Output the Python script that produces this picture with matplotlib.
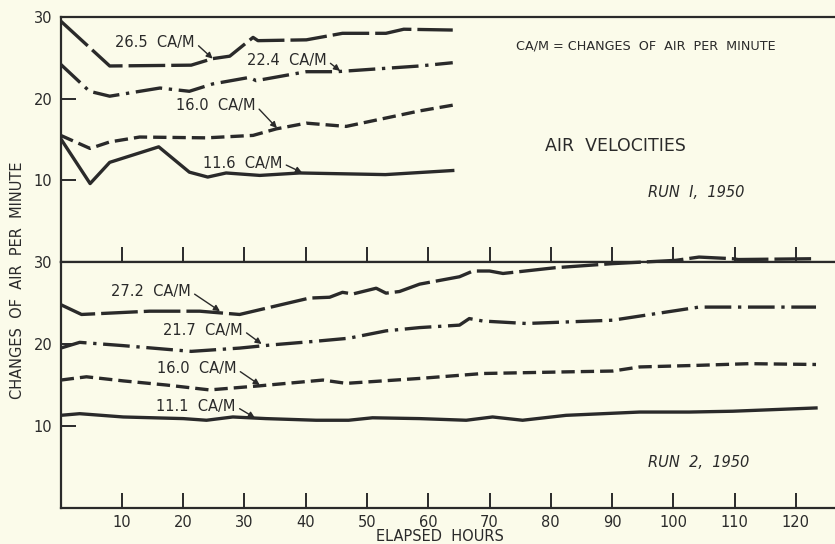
import matplotlib
matplotlib.use("Agg")
import matplotlib.pyplot as plt

# --- Data ---
# Run 1, 1950
r1_hours_a = [0, 8, 21.3, 24.8, 27.6, 31.4, 32.2, 40.1, 46, 53.1, 56, 64]
r1_265 = [29.5, 24.0, 24.1, 24.9, 25.2, 27.5, 27.1, 27.2, 28.0, 28.0, 28.5, 28.4]

r1_hours_b = [0, 4.7, 8, 16.2, 21, 24.8, 30.8, 31.9, 40.1, 45, 58.6, 64]
r1_224 = [24.2, 20.9, 20.3, 21.3, 20.9, 21.8, 22.6, 22.2, 23.3, 23.3, 24.0, 24.4]

r1_hours_c = [0, 4.8, 8, 12.9, 23.8, 31.4, 35.2, 40.1, 46.6, 58.6, 64]
r1_160 = [15.5, 13.9, 14.7, 15.3, 15.2, 15.5, 16.3, 17.0, 16.6, 18.5, 19.2]

r1_hours_d = [0, 4.8, 8, 16, 21, 24, 27, 32.5, 39, 53, 64]
r1_116 = [15.1, 9.6, 12.2, 14.1, 11.0, 10.4, 10.9, 10.6, 10.9, 10.7, 11.2]

# Run 2, 1950
r2_hours_a = [0, 3.4, 14.5, 22.7, 29.2, 40.6, 43.9, 46, 47.7, 51.5, 53.1, 55.3,
              58.6, 65.1, 67.3, 70, 72.2, 80.7, 90.1, 100.4, 104.2, 109.7, 110.6, 123.3]
r2_272 = [24.8, 23.6, 24.0, 24.0, 23.6, 25.6, 25.7, 26.3, 26.1, 26.8, 26.2, 26.4,
          27.3, 28.2, 28.9, 28.9, 28.6, 29.3, 29.8, 30.2, 30.6, 30.4, 30.3, 30.4]

r2_hours_b = [0, 3.1, 10.2, 21.3, 29.2, 34.6, 41.1, 47, 53.1, 58.6, 65.1, 66.7,
              68.9, 76, 90.1, 104.2, 123.3]
r2_217 = [19.5, 20.2, 19.8, 19.1, 19.5, 19.9, 20.3, 20.7, 21.6, 22.0, 22.3, 23.1,
          22.8, 22.5, 22.9, 24.5, 24.5]

r2_hours_c = [0, 4.2, 10.2, 17.2, 24.3, 32.5, 42.8, 46.6, 58.6, 68.9, 82.5, 90.1,
              94.5, 104.2, 112.4, 123.3]
r2_160 = [15.6, 16.0, 15.5, 15.0, 14.4, 14.9, 15.6, 15.2, 15.8, 16.4, 16.6, 16.7,
          17.2, 17.4, 17.6, 17.5]

r2_hours_d = [0, 3.1, 10.2, 20, 23.8, 28.1, 33.5, 41.7, 47, 50.9, 58.6, 66.2,
              70.5, 75.4, 82.5, 94.5, 102.6, 109.7, 123.3]
r2_111 = [11.3, 11.5, 11.1, 10.9, 10.7, 11.1, 10.9, 10.7, 10.7, 11.0, 10.9, 10.7,
          11.1, 10.7, 11.3, 11.7, 11.7, 11.8, 12.2]

x_ticks = [10, 20, 30, 40, 50, 60, 70, 80, 90, 100, 110, 120]
y_ticks = [10, 20, 30]

# --- Style ---
BG = "#fbfbea"
INK = "#2a2a2a"
LW = 2.4
LONG_DASH = (0, (11, 1.8))
DASH_DOT = (0, (8, 2, 1, 2))
DASH = (0, (4, 1.8))

plt.rcParams["font.family"] = "DejaVu Sans"

fig = plt.figure(figsize=(8.35, 5.44), dpi=100, facecolor=BG)
ax1 = fig.add_axes([0.0727, 0.5184, 0.9273, 0.4504])
ax2 = fig.add_axes([0.0727, 0.0662, 0.9273, 0.4522])

for ax in (ax1, ax2):
    ax.set_facecolor(BG)
    ax.set_xlim(0, 126.4)
    ax.set_ylim(0, 30)
    ax.spines["right"].set_visible(False)
    for s in ("left", "top", "bottom"):
        ax.spines[s].set_linewidth(1.6)
        ax.spines[s].set_color(INK)
    ax.set_xticks(x_ticks)
    ax.set_yticks(y_ticks)
    ax.tick_params(direction="in", length=11, width=1.4, color=INK,
                   labelcolor=INK, labelsize=10.5)
    ax.tick_params(axis="y", pad=6)

ax1.tick_params(axis="x", labelbottom=False)
ax2.tick_params(axis="x", pad=5)

# run 1 curves
ax1.plot(r1_hours_a, r1_265, color=INK, lw=LW, linestyle=LONG_DASH)
ax1.plot(r1_hours_b, r1_224, color=INK, lw=LW, linestyle=DASH_DOT)
ax1.plot(r1_hours_c, r1_160, color=INK, lw=LW, linestyle=DASH)
ax1.plot(r1_hours_d, r1_116, color=INK, lw=LW, linestyle="-")

# run 2 curves (top curve pokes above the divider, so no clipping)
ax2.plot(r2_hours_a, r2_272, color=INK, lw=LW, linestyle=LONG_DASH, clip_on=False, zorder=5)
ax2.plot(r2_hours_b, r2_217, color=INK, lw=LW, linestyle=DASH_DOT)
ax2.plot(r2_hours_c, r2_160, color=INK, lw=LW, linestyle=DASH)
ax2.plot(r2_hours_d, r2_111, color=INK, lw=LW, linestyle="-")

arrow = dict(arrowstyle="-|>", color=INK, lw=1.0, mutation_scale=9,
             relpos=(1.0, 0.5), shrinkA=1, shrinkB=0)
label_kw = dict(fontsize=10.5, color=INK, ha="left", va="center",
                arrowprops=arrow)

ax1.annotate("26.5  CA/M", xy=(24.8, 24.9), xytext=(8.9, 26.9), **label_kw)
ax1.annotate("22.4  CA/M", xy=(45.6, 23.4), xytext=(30.4, 24.7), **label_kw)
ax1.annotate("16.0  CA/M", xy=(35.3, 16.4), xytext=(18.8, 19.2), **label_kw)
ax1.annotate("11.6  CA/M", xy=(39.4, 10.95), xytext=(23.2, 12.1), **label_kw)

ax2.annotate("27.2  CA/M", xy=(26.0, 24.0), xytext=(8.2, 26.4), **label_kw)
ax2.annotate("21.7  CA/M", xy=(32.8, 20.0), xytext=(16.7, 21.7), **label_kw)
ax2.annotate("16.0  CA/M", xy=(32.5, 15.0), xytext=(15.7, 16.95), **label_kw)
ax2.annotate("11.1  CA/M", xy=(31.7, 11.0), xytext=(15.6, 12.4), **label_kw)

ax1.text(74.3, 26.4, "CA/M = CHANGES  OF  AIR  PER  MINUTE", fontsize=9.2,
         color=INK, ha="left", va="center")
ax1.text(79.0, 14.2, "AIR  VELOCITIES", fontsize=12.5, color=INK,
         ha="left", va="center")
ax1.text(95.9, 8.45, "RUN  I,  1950", fontsize=10.5, style="italic", color=INK,
         ha="left", va="center")
ax2.text(95.9, 5.5, "RUN  2,  1950", fontsize=10.5, style="italic", color=INK,
         ha="left", va="center")

fig.text(0.527, 1 - 536.5 / 544, "ELAPSED  HOURS", fontsize=10.5, color=INK,
         ha="center", va="center")
fig.text(0.021, 0.485, "CHANGES  OF  AIR  PER  MINUTE", rotation=90,
         fontsize=10.5, color=INK, ha="center", va="center")

fig.savefig("out.png", dpi=100, facecolor=BG)
